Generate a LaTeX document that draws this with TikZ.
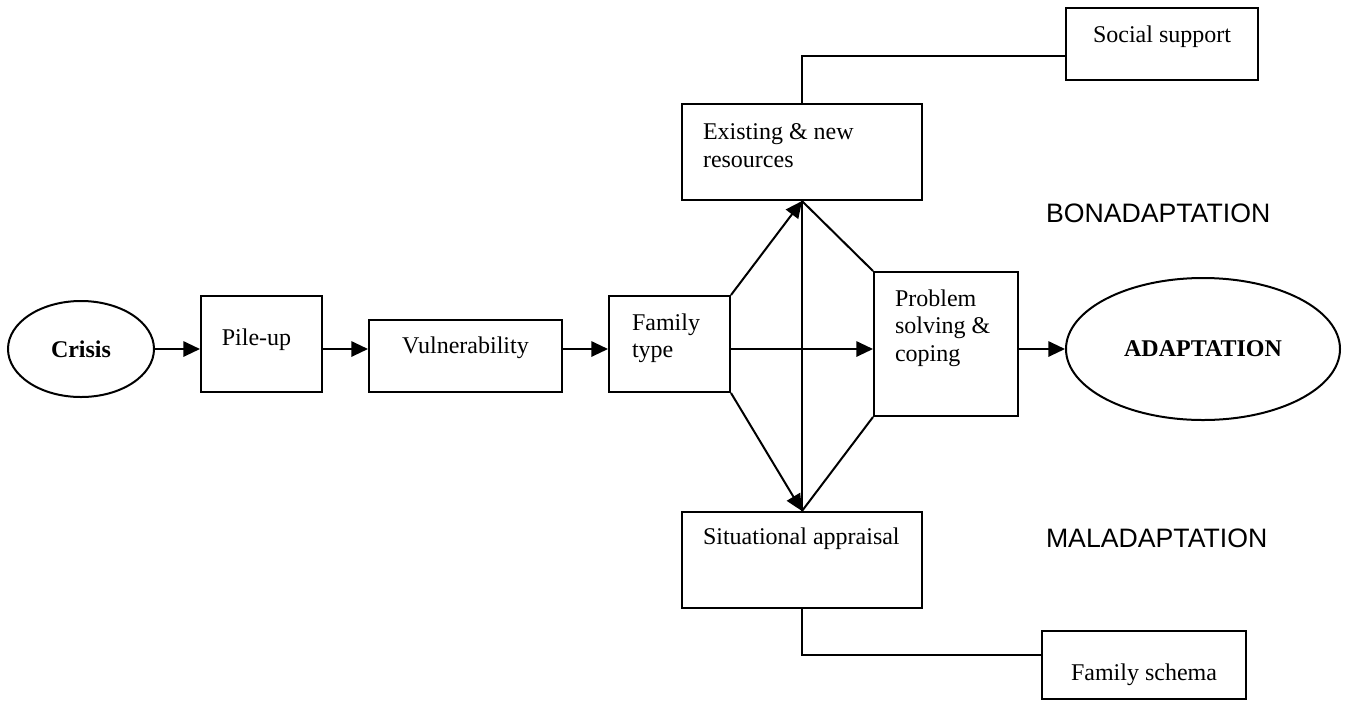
\documentclass[tikz,border=0pt]{standalone}
\usepackage{fontspec}
\setmainfont{Liberation Serif}
\newfontfamily\arialfont{Liberation Sans}
\usetikzlibrary{arrows.meta,shapes.geometric}
\begin{document}
\begin{tikzpicture}[x=0.75pt,y=-0.75pt,
  line width=1.5pt,
  box/.style={draw, rectangle, inner sep=0pt, line width=1.5pt},
  oval/.style={draw, ellipse, inner sep=0pt, line width=1.5pt, font=\fontsize{18pt}{20pt}\selectfont\bfseries},
  txt/.style={inner sep=0pt, font=\fontsize{18pt}{20.5pt}\selectfont, align=left},
  side/.style={inner sep=0pt, font=\arialfont\fontsize{20pt}{24pt}\selectfont},
  arr/.style={-{Triangle[length=12.5pt,width=11.5pt]}}]
\useasboundingbox (0,0) rectangle (1345,701);

% shapes
\node[oval, minimum width={146*0.75pt}, minimum height={96*0.75pt}] (crisis) at (81,349) {Crisis};
\node[box, minimum width={121*0.75pt}, minimum height={96*0.75pt}] (pile) at (261.5,344) {};
\node[box, minimum width={193*0.75pt}, minimum height={72*0.75pt}] (vuln) at (465.5,356) {};
\node[box, minimum width={121*0.75pt}, minimum height={96*0.75pt}] (ftype) at (669.5,344) {};
\node[box, minimum width={240*0.75pt}, minimum height={96*0.75pt}] (exist) at (802,152) {};
\node[box, minimum width={144*0.75pt}, minimum height={144*0.75pt}] (prob) at (946,344) {};
\node[box, minimum width={240*0.75pt}, minimum height={96*0.75pt}] (situ) at (802,560) {};
\node[box, minimum width={192*0.75pt}, minimum height={72*0.75pt}] (social) at (1162,44) {};
\node[box, minimum width={204*0.75pt}, minimum height={68*0.75pt}] (fschema) at (1144,665) {};
\node[oval, minimum width={274*0.75pt}, minimum height={142*0.75pt}] (adapt) at (1203,349) {ADAPTATION};

% texts
\node[txt, anchor=base] (pileT) at (256.5,345) {Pile-up};
\node[txt, anchor=base] (vulnT) at (465.5,353) {Vulnerability};
\node[txt, anchor=north west] (ftypeT) at (631,313) {Family\\type};
\node[txt, anchor=north west] (existT) at (702,123) {Existing \& new\\resources};
\node[txt, anchor=north west] (probT) at (894,289) {Problem\\solving \&\\coping};
\node[txt, anchor=base west] (situT) at (702,544) {Situational appraisal};
\node[txt, anchor=base] (socialT) at (1162,42) {Social support};
\node[txt, anchor=base] (fschemaT) at (1144,680) {Family schema};
\node[side, anchor=base west] (bon) at (1045,222) {BONADAPTATION};
\node[side, anchor=base west] (mal) at (1045,547) {MALADAPTATION};

% connectors
\coordinate (axis) at (0,349);
\draw[arr] (crisis.east) -- (pile.west |- axis);
\draw[arr] (pile.east |- axis) -- (vuln.west |- axis);
\draw[arr] (vuln.east |- axis) -- (ftype.west |- axis);
\draw[arr] (ftype.east |- axis) -- (prob.west |- axis);
\draw[arr] (prob.east |- axis) -- (adapt.west);
\draw[arr] (ftype.north east) -- (exist.south);
\draw[arr] (ftype.south east) -- (situ.north);
\draw (exist.south) -- (prob.north west);
\draw (situ.north) -- (prob.south west);
\draw (exist.south) -- (situ.north);
\draw (social.west |- 0,56) -| (exist.north);
\draw (situ.south) |- (fschema.west |- 0,655);
\end{tikzpicture}
\end{document}
